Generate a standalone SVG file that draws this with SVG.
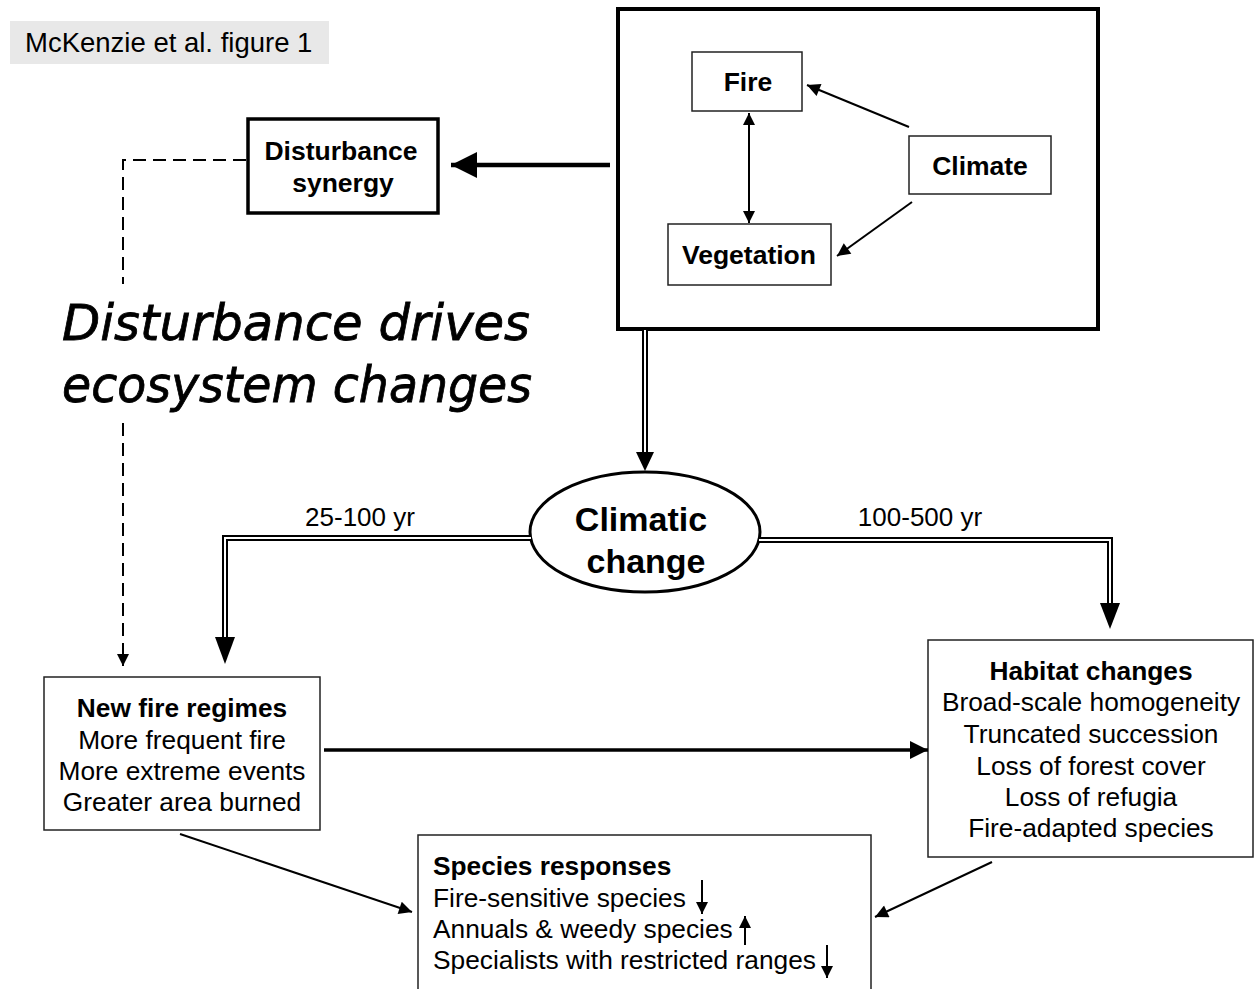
<svg xmlns="http://www.w3.org/2000/svg" width="1254" height="989" viewBox="0 0 1254 989">
<style>
text{font-family:"Liberation Sans",Arial,sans-serif;fill:#000}
.b{font-weight:bold}
.t{font-size:26.3px}
.n{font-size:26.5px;font-weight:bold}
.box{fill:#fff;stroke:#222;stroke-width:1.5}
.thin{fill:none;stroke:#000;stroke-width:2}
.dbl1{fill:none;stroke:#000;stroke-width:6}
.dbl2{fill:none;stroke:#fff;stroke-width:2}
.script{font-family:"Comic Sans MS","DejaVu Sans",sans-serif;font-style:italic;font-size:50px;stroke:#000;stroke-width:0.8}
</style>
<defs>
<marker id="ah" viewBox="0 0 10 10" refX="10" refY="5" markerWidth="16" markerHeight="13" markerUnits="userSpaceOnUse" orient="auto">
<path d="M0,0 L10,5 L0,10 z" fill="#000"/>
</marker>
<marker id="ahs" viewBox="0 0 10 10" refX="10" refY="5" markerWidth="14" markerHeight="12" markerUnits="userSpaceOnUse" orient="auto-start-reverse">
<path d="M0,0 L10,5 L0,10 z" fill="#000"/>
</marker>
<marker id="ahb" viewBox="0 0 10 10" refX="10" refY="5" markerWidth="26" markerHeight="26" markerUnits="userSpaceOnUse" orient="auto">
<path d="M0,0 L10,5 L0,10 z" fill="#000"/>
</marker>
<marker id="ahm" viewBox="0 0 10 10" refX="10" refY="5" markerWidth="20" markerHeight="18" markerUnits="userSpaceOnUse" orient="auto">
<path d="M0,0 L10,5 L0,10 z" fill="#000"/>
</marker>
</defs>
<rect width="1254" height="989" fill="#fff"/>

<g id="title">
<rect x="10" y="21" width="319" height="43" fill="#e8e8e8"/>
<text x="25" y="52" font-size="27.5">McKenzie et al. figure 1</text>
</g>

<g id="climate-system">
<rect x="618" y="9" width="480" height="320" fill="#fff" stroke="#000" stroke-width="4"/>
</g>
<g id="fire">
<rect class="box" x="692" y="52" width="110" height="59"/>
<text class="n" x="748" y="91" text-anchor="middle">Fire</text>
</g>
<g id="climate">
<rect class="box" x="909" y="136" width="142" height="58"/>
<text class="n" x="980" y="175" text-anchor="middle">Climate</text>
</g>
<g id="vegetation">
<rect class="box" x="668" y="224" width="163" height="61"/>
<text class="n" x="749" y="264" text-anchor="middle">Vegetation</text>
</g>

<g id="disturbance-synergy">
<rect x="248" y="119" width="190" height="94" fill="#fff" stroke="#000" stroke-width="3.5"/>
<text class="n" x="341" y="160" text-anchor="middle">Disturbance</text>
<text class="n" x="343" y="192" text-anchor="middle">synergy</text>
</g>

<g id="caption">
<text class="script" x="62" y="340" textLength="468" lengthAdjust="spacingAndGlyphs">Disturbance drives</text>
<text class="script" x="62" y="402" textLength="470" lengthAdjust="spacingAndGlyphs">ecosystem changes</text>
</g>

<g id="climatic-change">
<ellipse cx="645" cy="532" rx="115" ry="60" fill="#fff" stroke="#000" stroke-width="3"/>
<text class="b" x="641" y="531" font-size="34" text-anchor="middle">Climatic</text>
<text class="b" x="646" y="573" font-size="34" text-anchor="middle">change</text>
</g>

<g id="new-fire-regimes">
<rect class="box" x="44" y="677" width="276" height="153"/>
<text class="t b" x="182" y="717" text-anchor="middle">New fire regimes</text>
<text class="t" x="182" y="749" text-anchor="middle">More frequent fire</text>
<text class="t" x="182" y="780" text-anchor="middle">More extreme events</text>
<text class="t" x="182" y="811" text-anchor="middle">Greater area burned</text>
</g>

<g id="habitat-changes">
<rect class="box" x="928" y="640" width="325" height="217"/>
<text class="t b" x="1091" y="680" text-anchor="middle">Habitat changes</text>
<text class="t" x="1091" y="711" text-anchor="middle">Broad-scale homogeneity</text>
<text class="t" x="1091" y="743" text-anchor="middle">Truncated succession</text>
<text class="t" x="1091" y="775" text-anchor="middle">Loss of forest cover</text>
<text class="t" x="1091" y="806" text-anchor="middle">Loss of refugia</text>
<text class="t" x="1091" y="837" text-anchor="middle">Fire-adapted species</text>
</g>

<g id="species-responses">
<rect class="box" x="418" y="835" width="453" height="160"/>
<text class="t b" x="433" y="875">Species responses</text>
<text class="t" x="433" y="907">Fire-sensitive species</text>
<text class="t" x="433" y="938">Annuals &amp; weedy species</text>
<text class="t" x="433" y="969">Specialists with restricted ranges</text>
<line class="thin" x1="702" y1="880" x2="702" y2="914" marker-end="url(#ahs)"/>
<line class="thin" x1="745" y1="945" x2="745" y2="916" marker-end="url(#ahs)"/>
<line class="thin" x1="827" y1="945" x2="827" y2="978" marker-end="url(#ahs)"/>
</g>

<g id="connectors">
<line class="thin" x1="909" y1="127" x2="807" y2="85" marker-end="url(#ah)"/>
<line class="thin" x1="912" y1="202" x2="837" y2="256" marker-end="url(#ah)"/>
<line class="thin" x1="749" y1="113" x2="749" y2="223" marker-start="url(#ahs)" marker-end="url(#ahs)"/>
<line x1="610" y1="165" x2="451" y2="165" stroke="#000" stroke-width="4.5" marker-end="url(#ahb)"/>
<path d="M246,160 H123 V284" fill="none" stroke="#000" stroke-width="2" stroke-dasharray="13,7"/>
<path d="M123,423 V666" fill="none" stroke="#000" stroke-width="2" stroke-dasharray="13,7" marker-end="url(#ahs)"/>

<path class="dbl1" d="M645,330 V454"/>
<path class="dbl2" d="M645,330 V454"/>
<polygon points="636,452 654,452 645,471" fill="#000"/>

<path class="dbl1" d="M531,538 H225 V640"/>
<path class="dbl2" d="M531,538 H225 V640"/>
<polygon points="215,637 235,637 225,664" fill="#000"/>

<path class="dbl1" d="M759,540 H1110 V605"/>
<path class="dbl2" d="M759,540 H1110 V605"/>
<polygon points="1100,603 1120,603 1110,629" fill="#000"/>

<text x="360" y="526" font-size="26" text-anchor="middle">25-100 yr</text>
<text x="920" y="526" font-size="26" text-anchor="middle">100-500 yr</text>

<line x1="324" y1="750" x2="928" y2="750" stroke="#000" stroke-width="3.5" marker-end="url(#ahm)"/>
<line class="thin" x1="180" y1="834" x2="412" y2="912" marker-end="url(#ah)"/>
<line class="thin" x1="992" y1="862" x2="875" y2="917" marker-end="url(#ah)"/>
</g>
</svg>
